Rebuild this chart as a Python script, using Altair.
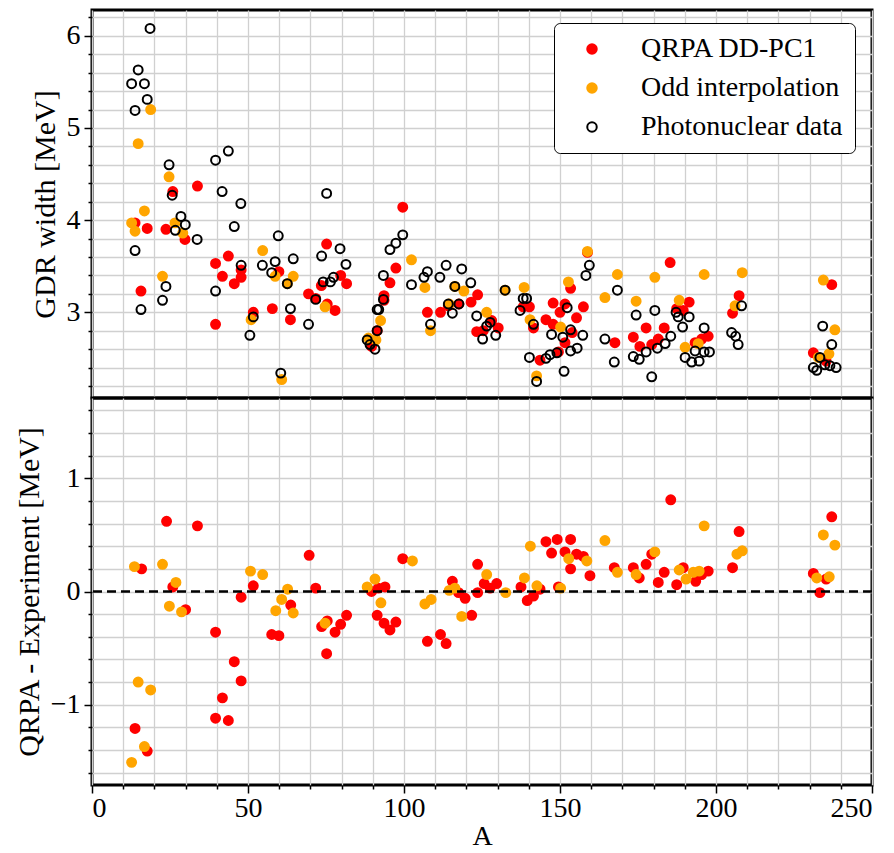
import altair as alt
import pandas as pd

FONT = "Liberation Serif"
series = ["QRPA DD-PC1", "Odd interpolation", "Photonuclear data"]

# ---- top panel: GDR width [MeV] ----
qrpa_A = [13.8, 15.7, 17.7, 23.7, 25.9, 29.8, 33.8, 39.6, 39.6, 41.8, 43.7, 45.6, 47.8, 47.8,
          51.7, 57.8, 59.9, 63.6, 69.4, 71.7, 73.5, 75.2, 75.4, 77.9, 79.7, 81.6, 89.6, 91.4,
          93.6, 93.6, 95.5, 97.4, 99.6, 107.5, 111.7, 114.2, 117.6, 121.5, 123.6, 123.3, 125.4,
          128.1, 130.2, 138.2, 140.2, 141.5, 143.6, 145.5, 147.8, 147.8, 149.5, 150.0, 151.6,
          151.6, 153.4, 153.9, 155.3, 157.5, 158.8, 167.6, 173.5, 175.6, 177.6, 179.4, 181.5,
          183.4, 185.3, 187.4, 189.5, 191.4, 193.3, 195.4, 197.5, 205.3, 207.4, 231.2, 235.3,
          237.1]
qrpa_W = [3.97, 3.23, 3.91, 3.90, 4.31, 3.79, 4.37, 3.53, 2.87, 3.39, 3.61, 3.31, 3.38, 3.46,
          3.00, 3.04, 3.44, 2.92, 3.20, 3.15, 3.29, 3.74, 3.09, 3.02, 3.40, 3.31, 2.63, 2.80,
          3.18, 3.13, 3.32, 3.48, 4.14, 3.00, 3.00, 3.07, 3.09, 3.11, 3.19, 2.79, 2.80,
          2.91, 2.83, 3.06, 3.06, 2.83, 2.48, 2.92, 3.10, 2.87, 2.57, 3.00, 3.09,
          2.67, 3.26, 2.78, 2.94, 3.06, 3.65, 2.67, 2.73, 2.63, 2.83, 2.65, 2.71,
          2.83, 3.54, 3.04, 3.02, 3.11, 2.67, 2.71, 2.74, 2.99, 3.18, 2.56, 2.47,
          3.30]

odd_A = [12.7, 13.8, 14.8, 16.8, 18.8, 22.6, 24.7, 26.6, 29.1, 51.0, 54.7, 58.7, 60.8, 62.6,
         64.5, 74.7, 88.6, 91.0, 92.5, 102.4, 106.7, 108.5, 114.5, 116.3, 119.2, 126.5, 132.4,
         138.5, 140.4, 142.5, 150.2, 152.7, 158.8, 164.4, 168.4, 174.4, 180.4, 188.2, 190.1,
         194.3, 196.2, 206.1, 208.4, 232.8, 234.4, 236.2, 238.1]
odd_W = [3.97, 3.88, 4.83, 4.10, 5.20, 3.39, 4.47, 3.97, 3.86, 2.92, 3.67, 3.39, 2.27, 3.31,
         3.39, 3.06, 2.72, 2.70, 2.91, 3.57, 3.27, 2.80, 3.09, 3.28, 3.23, 3.00, 3.24,
         3.27, 2.92, 2.31, 2.84, 3.33, 3.66, 3.16, 3.41, 3.12, 3.38, 3.13, 2.62,
         2.66, 3.41, 3.07, 3.43, 2.51, 3.35, 2.55, 2.81]

exp_A = [12.7, 13.8, 13.8, 14.8, 15.7, 16.8, 17.7, 18.6, 22.6, 23.7, 24.7, 25.7, 26.7, 28.5,
         29.9, 33.7, 39.6, 39.6, 41.7, 43.7, 45.6, 47.7, 47.8, 50.6, 51.7, 54.6, 57.6, 58.7,
         59.7, 60.5, 62.6, 63.6, 64.5, 69.4, 71.7, 73.6, 74.1, 75.2, 76.4, 77.4, 79.5, 81.4,
         88.2, 89.1, 90.7, 91.4, 91.9, 91.4, 93.4, 93.4, 95.5, 97.4, 99.6, 102.4, 106.4, 107.5,
         108.5, 111.5, 113.5, 114.2, 115.5, 116.3, 117.6, 118.5, 121.4, 123.3, 125.2, 126.5,
         127.6, 129.4, 132.4, 137.2, 138.2, 139.3, 140.2, 141.5, 142.5, 145.5, 146.8, 147.3,
         149.0, 150.9, 151.3, 152.3, 153.4, 153.4, 155.5, 157.3, 158.3, 159.4, 164.4, 167.4,
         168.4, 173.5, 174.4, 175.4, 177.6, 179.4, 180.4, 181.2, 183.7, 185.5, 187.2, 187.9,
         189.3, 190.1, 191.4, 192.2, 193.3, 194.6, 196.2, 196.2, 197.9, 205.0, 206.3, 207.1,
         208.2, 231.2, 232.3, 233.3, 234.2, 234.9, 236.5, 237.1, 238.5]
exp_W = [5.48, 5.19, 3.67, 5.63, 3.03, 5.48, 5.31, 6.08, 3.13, 3.28, 4.60, 4.27, 3.89, 4.04,
         3.95, 3.79, 4.65, 3.23, 4.31, 4.75, 3.93, 4.18, 3.51, 2.75, 2.95, 3.51, 3.43, 3.55,
         3.83, 2.34, 3.31, 3.04, 3.58, 2.87, 3.14, 3.61, 3.33, 4.29, 3.33, 3.38, 3.69, 3.52,
         2.70, 2.65, 2.60, 3.03, 3.03, 2.80, 3.40, 3.14, 3.68, 3.75, 3.84, 3.30, 3.38, 3.44,
         2.87, 3.38, 3.51, 3.09, 2.99, 3.28, 3.09, 3.47, 3.32, 2.96, 2.71, 2.85,
         2.89, 2.75, 3.24, 3.02, 3.15, 3.15, 2.51, 2.87, 2.25, 2.50, 2.54, 2.76,
         2.56, 2.73, 2.36, 3.05, 2.81, 2.58, 2.61, 2.75, 3.40, 3.51, 2.71, 2.46,
         3.24, 2.52, 2.97, 2.49, 2.57, 2.30, 3.02, 2.61, 2.66, 2.74, 3.00, 2.95,
         2.84, 2.51, 2.95, 2.46, 2.58, 2.47, 2.57, 2.83, 2.57, 2.78, 2.74, 2.65,
         3.07, 2.40, 2.37, 2.51, 2.85, 2.43, 2.42, 2.65, 2.40]

# ---- bottom panel: QRPA - Experiment [MeV] ----
qrpa_dA = [13.8, 15.9, 17.7, 23.9, 25.9, 30.0, 33.8, 39.6, 39.6, 41.8, 43.7, 45.6, 47.8, 47.8,
           51.7, 57.6, 59.9, 63.7, 69.6, 71.7, 73.6, 75.4, 75.2, 77.9, 79.7, 81.6, 89.6, 91.8,
           93.9, 91.4, 93.6, 95.5, 97.4, 99.6, 107.5, 111.7, 113.5, 115.5, 117.5, 119.6, 121.7,
           123.6, 123.6, 125.7, 127.6, 129.7, 137.5, 139.5, 141.5, 143.6, 145.5, 147.3, 149.1,
           149.5, 151.6, 153.4, 153.4, 155.3, 157.5, 159.6, 167.4, 173.5, 175.4, 177.6, 179.4,
           181.5, 183.4, 185.5, 187.4, 189.5, 193.5, 195.4, 197.5, 205.3, 207.4, 231.2, 233.3,
           235.3, 237.1]
qrpa_d = [-1.21, 0.20, -1.41, 0.62, 0.04, -0.16, 0.58, -0.36, -1.12, -0.94, -1.14, -0.62, -0.05, -0.79,
          0.05, -0.38, -0.39, -0.12, 0.32, 0.03, -0.31, -0.26, -0.55, -0.36, -0.29, -0.21, 0.00, 0.03,
          0.04, -0.21, -0.28, -0.34, -0.27, 0.29, -0.44, -0.38, -0.46, 0.09, -0.01, -0.06, -0.21,
          0.24, -0.01, 0.07, 0.03, 0.07, 0.04, -0.08, -0.04, 0.02, 0.44, 0.34, 0.46,
          0.04, 0.35, 0.46, 0.20, 0.33, 0.31, 0.14, 0.21, 0.21, 0.12, 0.24, 0.33,
          0.08, 0.17, 0.81, 0.06, 0.21, 0.09, 0.15, 0.18, 0.21, 0.53, 0.16, -0.01,
          0.11, 0.66]

odd_dA = [12.7, 13.6, 14.8, 16.8, 18.8, 22.6, 24.8, 26.9, 28.7, 50.8, 54.7, 58.9, 60.8, 62.7,
          64.5, 74.7, 88.2, 90.7, 92.6, 102.7, 106.7, 108.7, 114.5, 116.3, 118.5, 126.5, 132.6,
          138.6, 140.5, 142.6, 150.2, 152.8, 158.6, 164.4, 168.4, 174.4, 180.4, 188.2, 190.4,
          192.7, 194.6, 196.2, 206.7, 208.4, 232.3, 234.4, 236.3, 238.1]
odd_d = [-1.51, 0.22, -0.80, -1.37, -0.87, 0.24, -0.13, 0.08, -0.18, 0.18, 0.15, -0.17, -0.07, 0.02,
         -0.19, -0.28, 0.04, 0.11, -0.10, 0.27, -0.11, -0.07, 0.01, 0.03, -0.22, 0.15, -0.01,
         0.12, 0.40, 0.05, 0.03, 0.29, 0.27, 0.45, 0.17, 0.15, 0.35, 0.19, 0.11,
         0.17, 0.18, 0.58, 0.33, 0.36, 0.12, 0.50, 0.13, 0.41]

x_ticks = list(range(0, 251, 10))
top_ticks = [round(2.2 + 0.2 * i, 1) for i in range(21)]
bot_ticks = [round(-1.6 + 0.2 * i, 1) for i in range(17)]

top_df = pd.concat([
    pd.DataFrame({"A": qrpa_A, "v": qrpa_W, "series": series[0]}),
    pd.DataFrame({"A": odd_A, "v": odd_W, "series": series[1]}),
    pd.DataFrame({"A": exp_A, "v": exp_W, "series": series[2]}),
], ignore_index=True)
bot_df = pd.concat([
    pd.DataFrame({"A": qrpa_dA, "v": qrpa_d, "series": series[0]}),
    pd.DataFrame({"A": odd_dA, "v": odd_d, "series": series[1]}),
], ignore_index=True)

W, H1, H2 = 780, 388, 387
xscale = alt.Scale(domain=[0, 250], nice=False, zero=False)
major_test = "abs(datum.value - round(datum.value)) < 0.001"
font_kw = dict(labelFont=FONT, labelFontSize=28, labelColor="black",
               titleFont=FONT, titleFontWeight="normal", titleColor="black")

x_top_axis = alt.Axis(values=x_ticks, labels=False, ticks=False, title=None, grid=True,
                      minExtent=0, maxExtent=0, offset=0, labelPadding=0)
x_bot_axis = alt.Axis(values=x_ticks, title="A", grid=True, labelPadding=1, titlePadding=0,
                      titleFontSize=28, **font_kw,
                      labelExpr="datum.value % 50 === 0 ? format(datum.value, 'd') : ''",
                      tickSize={"condition": {"test": "datum.value % 50 === 0", "value": 8}, "value": 4})
y_top_axis = alt.Axis(values=top_ticks, title="GDR width [MeV]", grid=True,
                      titleFontSize=30, **font_kw,
                      labelExpr=f"{major_test} ? format(datum.value, 'd') : ''",
                      tickSize={"condition": {"test": major_test, "value": 8}, "value": 4})
y_bot_axis = alt.Axis(values=bot_ticks, title="QRPA - Experiment [MeV]", grid=True,
                      titleFontSize=30, **font_kw,
                      labelExpr=f"{major_test} ? format(datum.value, 'd') : ''",
                      tickSize={"condition": {"test": major_test, "value": 8}, "value": 4})

legend = alt.Legend(title=None, orient="none", legendX=462, legendY=13,
                    labelFont=FONT, labelFontSize=28, labelColor="black", labelLimit=500,
                    symbolType="circle", symbolSize=90, symbolStrokeWidth=2,
                    symbolOffset=12, labelOffset=35, rowPadding=11, padding=12,
                    strokeColor="black", fillColor="white", cornerRadius=6)

top = alt.Chart(top_df).mark_point(filled=True, size=80, strokeWidth=2, opacity=1, shape="circle").encode(
    x=alt.X("A:Q", scale=xscale, axis=x_top_axis),
    y=alt.Y("v:Q", scale=alt.Scale(domain=[2.07, 6.28], nice=False, zero=False), axis=y_top_axis),
    fill=alt.Fill("series:N", scale=alt.Scale(domain=series, range=["#ff0000", "#ffa500", "transparent"]), legend=legend),
    stroke=alt.Stroke("series:N", scale=alt.Scale(domain=series, range=["#ff0000", "#ffa500", "black"]), legend=legend),
).properties(width=W, height=H1)

ybot_scale = alt.Scale(domain=[-1.71, 1.71], nice=False, zero=False)
bot_pts = alt.Chart(bot_df).mark_point(filled=True, size=80, strokeWidth=2, opacity=1, shape="circle").encode(
    x=alt.X("A:Q", scale=xscale, axis=x_bot_axis),
    y=alt.Y("v:Q", scale=ybot_scale, axis=y_bot_axis),
    fill=alt.Fill("series:N", scale=alt.Scale(domain=series[:2], range=["#ff0000", "#ffa500"]), legend=None),
    stroke=alt.Stroke("series:N", scale=alt.Scale(domain=series[:2], range=["#ff0000", "#ffa500"]), legend=None),
)
zero_line = alt.Chart(pd.DataFrame({"v": [0.0]})).mark_rule(
    strokeDash=[9, 5], strokeWidth=2.5, color="black").encode(
    y=alt.Y("v:Q", scale=ybot_scale, axis=y_bot_axis))
bottom = alt.layer(bot_pts, zero_line).properties(width=W, height=H2)

chart = alt.vconcat(top, bottom, spacing=0, bounds="flush").resolve_scale(
    fill="independent", stroke="independent").resolve_legend(
    fill="independent", stroke="independent").properties(
    padding={"left": 12, "top": 8, "right": 0, "bottom": 0},
    background="white",
).configure_view(stroke="black", strokeWidth=3).configure_axis(
    domain=False, labelFont=FONT, labelFontSize=28, labelColor="black",
    titleFont=FONT, titleFontSize=30, titleFontWeight="normal", titleColor="black",
    tickColor="black", tickWidth=1.5, gridColor="#d0d0d0", gridWidth=1.3,
    labelPadding=4, titlePadding=6,
)

chart.save("out.html", embed_options={"renderer": "svg", "actions": False})
